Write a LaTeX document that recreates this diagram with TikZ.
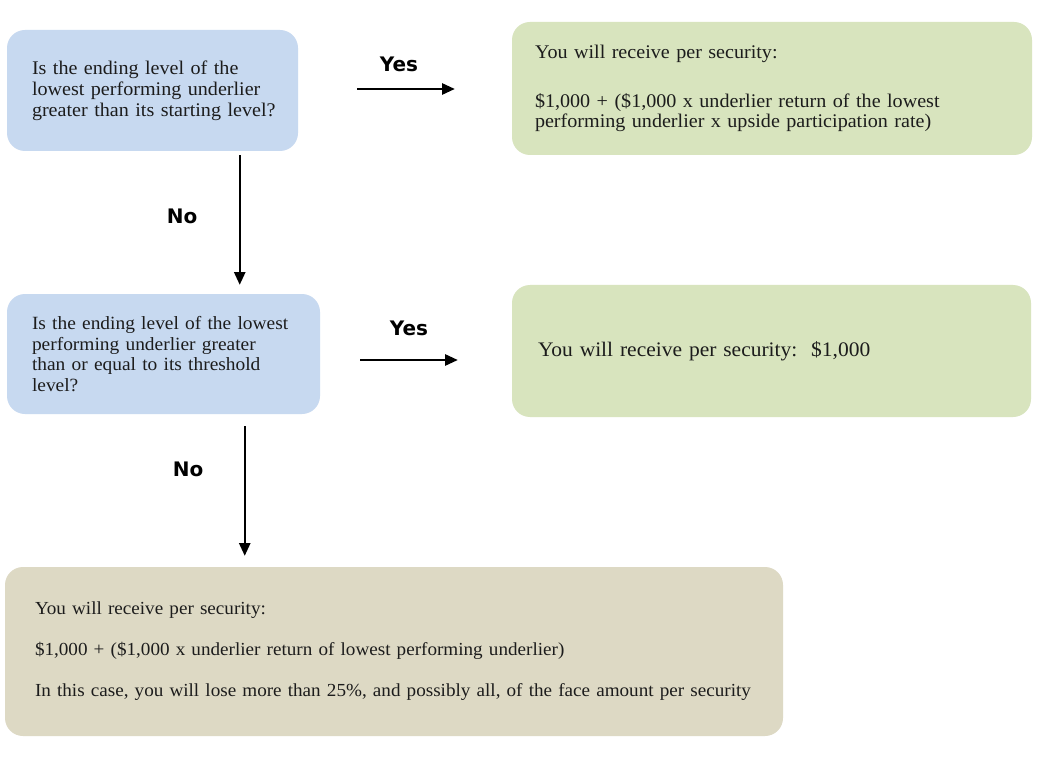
\documentclass[tikz,border=0pt]{standalone}
\usepackage{fontspec}
\setmainfont{Liberation Serif}[FakeStretch=1.04,WordSpace=0.8]
\newfontfamily\labelfont{DejaVu Sans}
\usetikzlibrary{calc,arrows.meta}
\definecolor{qblue}{HTML}{C7D9F0}
\definecolor{rgreen}{HTML}{D8E4BE}
\definecolor{rtan}{HTML}{DDD9C4}
\definecolor{ink}{HTML}{1C1C1C}
\tikzset{
  box/.style={rounded corners=13.5pt, inner ysep=0pt, inner xsep=18.75pt, align=left, anchor=center,
    text=ink, font=\fontsize{14.5}{15.6}\selectfont},
  arr/.style={draw=black, line width=1.2pt, -{Triangle[length=9.5pt,width=8.5pt]}},
  lbl/.style={font=\labelfont\bfseries\fontsize{15}{17}\selectfont, text=black, inner sep=0pt}
}
\begin{document}
\begin{tikzpicture}[x=0.75pt,y=-0.75pt]
\useasboundingbox (0,0) rectangle (1062,766);
\fill[white] (0,0) rectangle (1062,766);
% boxes
\node[box, fill=qblue, text width=180.75pt, minimum height=90.75pt] (b1) at (152.5,90.5)
  {\mbox{Is the ending level of the}\\\mbox{lowest performing underlier}\\\mbox{greater than its starting level?}};
\node[box, fill=rgreen, inner xsep=17.25pt, text width=355.5pt, minimum height=99.75pt] (b2) at (772,88.5)
  {\mbox{You will receive per security:}\\[21pt]\mbox{\$1,000 + (\$1,000 x underlier return of the lowest}\\\mbox{performing underlier x upside participation rate)}};
\node[box, fill=qblue, text width=197.25pt, minimum height=90pt,
  font=\fontsize{14}{15.4}\selectfont] (b3) at (163.5,354)
  {\mbox{Is the ending level of the lowest}\\\mbox{performing underlier greater}\\\mbox{than or equal to its threshold}\\\mbox{level?}};
\node[box, fill=rgreen, inner xsep=19.5pt, text width=350.25pt, minimum height=99pt,
  font=\fontsize{15.5}{17}\selectfont] (b4) at (771.5,351)
  {\mbox{You will receive per security:\ \ \$1,000}};
\node[box, fill=rtan, inner xsep=22.5pt, text width=538.5pt, minimum height=126.75pt,
  font=\fontsize{13.8}{30.75}\selectfont] (b5) at (394,651.5)
  {\mbox{You will receive per security:}\\\mbox{\$1,000 + (\$1,000 x underlier return of lowest performing underlier)}\\\mbox{In this case, you will lose more than 25\%, and possibly all, of the face amount per security}};
% connectors
\draw[arr] ($(b1.east)+(59,-1.5)$) -- ($(b2.west)+(-57,0.5)$);
\draw[arr] ($(b1.south west)+(233,4)$) -- ($(b3.north west)+(233,-9)$);
\draw[arr] ($(b3.east)+(40,6)$) -- ($(b4.west)+(-54,9)$);
\draw[arr] ($(b3.south west)+(238,12)$) -- ($(b5.north west)+(240,-11)$);
% labels
\node[lbl] (yes1) at (399,64) {Yes};
\node[lbl] (no1) at (182,216) {No};
\node[lbl] (yes2) at (409,328) {Yes};
\node[lbl] (no2) at (188,469) {No};
\end{tikzpicture}
\end{document}
